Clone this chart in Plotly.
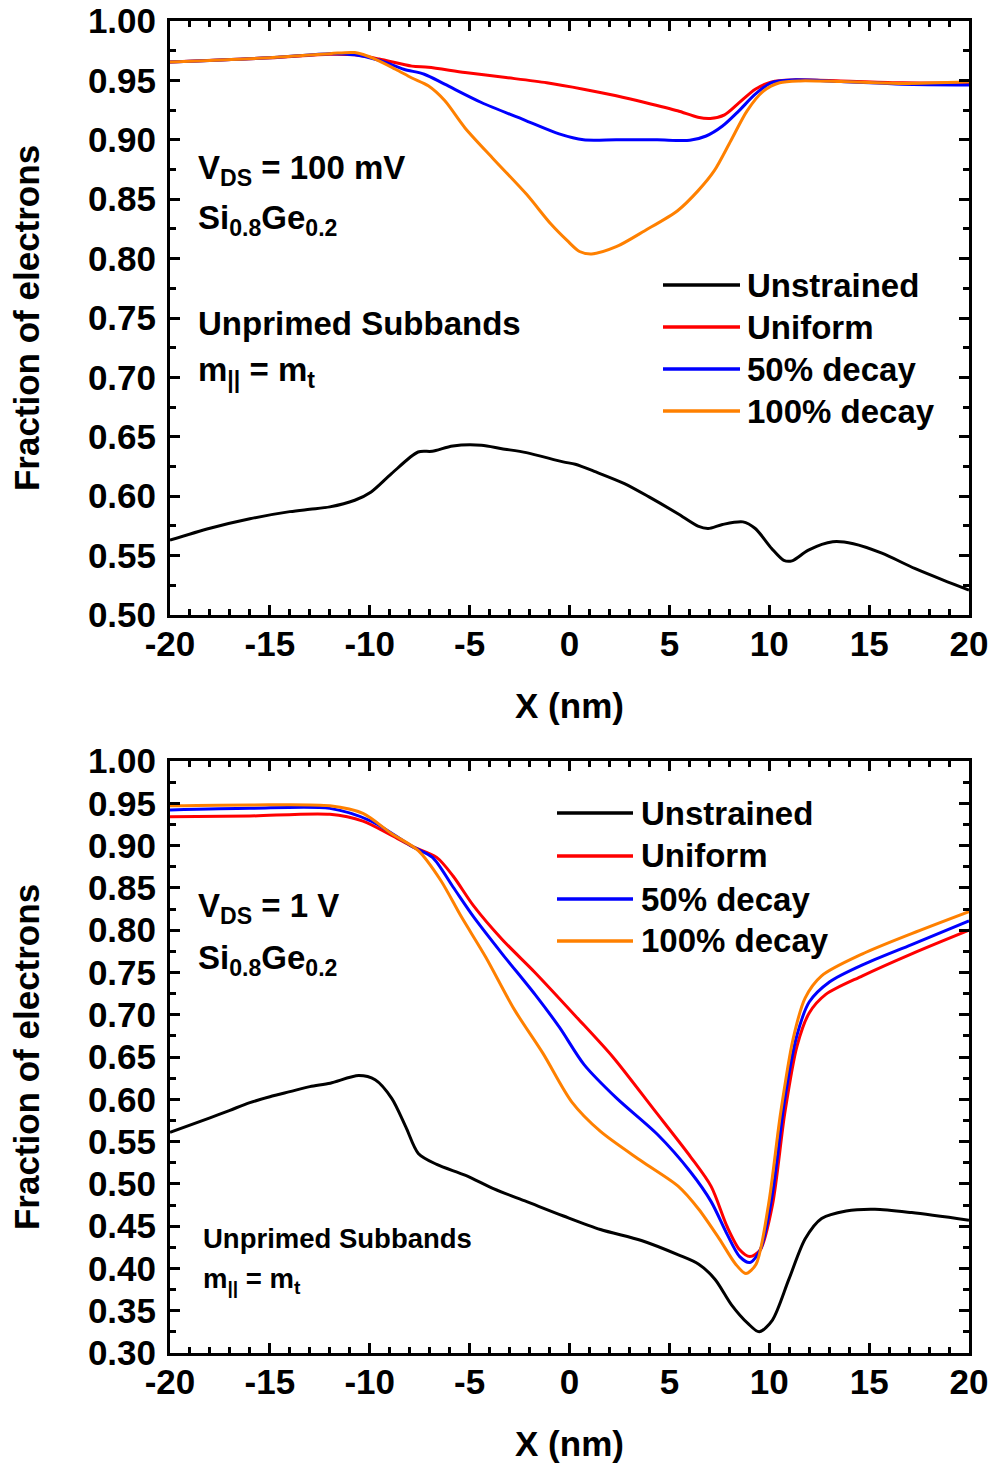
import plotly.graph_objects as go

W, H = 995, 1468

# ---------------- Top panel (V_DS = 100 mV) ----------------
top_unstrained_x = [-20, -18, -16, -14, -13, -12, -10.75, -9.93, -8.91, -7.58, -6.87, -5.84, -4.41, -3.39, -2.16,
                    -0.32, 0.29, 1.32, 2.75, 3.98, 5.41, 6.43, 6.94, 7.66, 8.68, 9.3, 10.12, 10.73, 11.14, 11.96,
                    13.18, 14.21, 15.64, 17.28, 18.71, 20]
top_unstrained_y = [0.563, 0.573, 0.581, 0.587, 0.589, 0.591, 0.5966, 0.6036, 0.619, 0.6372, 0.6378, 0.6423, 0.6429,
                    0.640, 0.6367, 0.6289, 0.6269, 0.6204, 0.6106, 0.5994, 0.5854, 0.5748, 0.5728, 0.5762, 0.5784,
                    0.5728, 0.556, 0.546, 0.5456, 0.5546, 0.5616, 0.560, 0.552, 0.5392, 0.5294, 0.521]

top_uniform_x = [-20, -15, -11.98, -10.75, -9.53, -7.89, -7.07, -5.23, -3.18, -1.14, 0.70, 2.34, 3.77, 5.41, 6.43,
                 7.05, 7.76, 8.48, 9.3, 10.12, 11.14, 13.59, 16.66, 20]
top_uniform_y = [0.9655, 0.969, 0.972, 0.9715, 0.968, 0.962, 0.961, 0.9566, 0.9524, 0.948, 0.9426, 0.937, 0.9314,
                 0.9244, 0.919, 0.918, 0.921, 0.931, 0.9426, 0.9488, 0.9504, 0.9496, 0.948, 0.948]

top_decay50_x = [-20, -15, -11.98, -10.75, -9.53, -8.3, -7.27, -6.25, -4.41, -2.16, -0.52, 0.70, 2.34, 4.39, 6.02,
                 6.84, 7.66, 8.48, 9.3, 10.12, 11.14, 13.59, 16.66, 20]
top_decay50_y = [0.9655, 0.969, 0.9725, 0.9715, 0.967, 0.9594, 0.9552, 0.9468, 0.9314, 0.916, 0.905, 0.900, 0.900,
                 0.900, 0.8996, 0.9032, 0.9116, 0.9244, 0.9384, 0.9482, 0.9504, 0.949, 0.9468, 0.9462]

top_decay100_x = [-20, -15, -11.98, -10.75, -9.73, -8.71, -7.89, -7.07, -6.25, -5.23, -3.8, -2.16, -0.93, -0.11,
                  0.5, 1.11, 2.34, 3.77, 5.41, 6.43, 7.25, 8.07, 8.89, 9.71, 10.52, 11.55, 13.59, 16.66, 20]
top_decay100_y = [0.9655, 0.969, 0.9725, 0.9734, 0.968, 0.9594, 0.952, 0.9454, 0.933, 0.910, 0.8837, 0.8543,
                  0.8291, 0.8151, 0.806, 0.8039, 0.810, 0.8235, 0.8403, 0.857, 0.874, 0.899, 0.9244, 0.941, 0.948,
                  0.9496, 0.949, 0.9474, 0.9488]

# ---------------- Bottom panel (V_DS = 1 V) ----------------
bot_unstrained_x = [-20, -18, -17, -16, -15, -14, -13, -11.98, -10.55, -9.73, -8.9, -8.19, -7.57, -6.65, -5.2,
                    -3.78, -2.14, -0.3, 1.55, 3.6, 5.45, 6.47, 7.29, 8.11, 8.93, 9.5, 10.16, 10.98, 11.8, 12.62,
                    13.85, 15.29, 17.13, 20]
bot_unstrained_y = [0.561, 0.578, 0.587, 0.596, 0.603, 0.609, 0.615, 0.619, 0.628, 0.623, 0.601, 0.567, 0.536,
                    0.523, 0.510, 0.494, 0.479, 0.462, 0.446, 0.433, 0.416, 0.405, 0.387, 0.357, 0.335, 0.325,
                    0.339, 0.387, 0.435, 0.459, 0.468, 0.470, 0.466, 0.457]

bot_uniform_x = [-20, -16, -12, -10.34, -8.9, -7.88, -6.65, -5.83, -4.81, -3.37, -1.73, 0.32, 2.17, 4.22, 6.06,
                 7.09, 7.9, 8.52, 9.03, 9.55, 10.16, 10.78, 11.39, 12.0, 12.83, 14.67, 17.13, 20]
bot_uniform_y = [0.934, 0.935, 0.937, 0.929, 0.912, 0.899, 0.886, 0.864, 0.829, 0.789, 0.750, 0.698, 0.650,
                 0.588, 0.532, 0.497, 0.449, 0.422, 0.414, 0.422, 0.475, 0.584, 0.663, 0.702, 0.724, 0.746,
                 0.772, 0.800]

bot_decay50_x = [-20, -16, -12, -9.93, -7.88, -6.86, -5.83, -4.81, -3.37, -1.73, -0.5, 0.73, 2.37, 4.42, 6.06,
                 7.09, 7.9, 8.52, 9.03, 9.55, 10.16, 10.78, 11.39, 12.0, 13.03, 14.67, 17.13, 20]
bot_decay50_y = [0.942, 0.944, 0.944, 0.929, 0.899, 0.886, 0.851, 0.816, 0.772, 0.724, 0.685, 0.641, 0.601,
                 0.558, 0.514, 0.479, 0.440, 0.414, 0.407, 0.422, 0.488, 0.601, 0.676, 0.715, 0.739, 0.759,
                 0.783, 0.811]

bot_decay100_x = [-20, -16, -12, -10.34, -8.9, -7.57, -6.45, -5.42, -4.19, -2.76, -1.32, 0.11, 1.55, 3.6, 5.45,
                  6.47, 7.5, 8.32, 8.83, 9.34, 9.96, 10.57, 11.19, 11.8, 12.62, 14.67, 17.13, 20]
bot_decay100_y = [0.947, 0.948, 0.947, 0.938, 0.914, 0.894, 0.859, 0.816, 0.768, 0.706, 0.654, 0.597, 0.562,
                  0.527, 0.497, 0.470, 0.435, 0.405, 0.394, 0.405, 0.475, 0.584, 0.671, 0.720, 0.746, 0.772,
                  0.796, 0.822]

series_names = ["Unstrained", "Uniform", "50% decay", "100% decay"]
series_colors = ["#000000", "#FF0000", "#0000FF", "#FF8000"]

x_tick_vals = [-20, -15, -10, -5, 0, 5, 10, 15, 20]
x_tick_labels = ["-20", "-15", "-10", "-5", "0", "5", "10", "15", "20"]

FONT = "Liberation Sans, Arial, sans-serif"

fig = go.Figure()

top_series = [(top_unstrained_x, top_unstrained_y), (top_uniform_x, top_uniform_y),
              (top_decay50_x, top_decay50_y), (top_decay100_x, top_decay100_y)]
bot_series = [(bot_unstrained_x, bot_unstrained_y), (bot_uniform_x, bot_uniform_y),
              (bot_decay50_x, bot_decay50_y), (bot_decay100_x, bot_decay100_y)]

for (xs, ys), name, col in zip(top_series, series_names, series_colors):
    fig.add_trace(go.Scatter(x=xs, y=ys, mode="lines", name=name, showlegend=False,
                             line=dict(color=col, width=3, shape="spline", smoothing=0.8),
                             xaxis="x", yaxis="y"))
for (xs, ys), name, col in zip(bot_series, series_names, series_colors):
    fig.add_trace(go.Scatter(x=xs, y=ys, mode="lines", name=name, showlegend=False,
                             line=dict(color=col, width=3, shape="spline", smoothing=0.8),
                             xaxis="x2", yaxis="y2"))


def px(x):
    return x / W


def py(y):
    return 1 - y / H


xdom = [px(170), px(969)]
top_dom = [py(615), py(21)]
bot_dom = [py(1353), py(761)]

tickfont = dict(family=FONT, size=35, color="black", weight="bold")
titlefont = dict(family=FONT, size=35, color="black", weight="bold")

common_axis = dict(showline=True, linewidth=3, linecolor="black", mirror="allticks",
                   ticks="inside", ticklen=10, tickwidth=3, tickcolor="black",
                   showgrid=False, zeroline=False, tickfont=tickfont, automargin=False)

xaxis_common = dict(common_axis, range=[-20, 20], tickmode="array", tickvals=x_tick_vals, ticktext=x_tick_labels,
                    ticklabelstandoff=-4,
                    minor=dict(dtick=1, tick0=0, ticklen=6, tickwidth=3, tickcolor="black", ticks="inside",
                               showgrid=False),
                    title=dict(text="X (nm)", font=titlefont, standoff=32), domain=xdom)

yaxis_common = dict(common_axis, dtick=0.05, tick0=0, tickformat=".2f", ticklabelstandoff=4,
                    minor=dict(dtick=0.025, tick0=0, ticklen=6, tickwidth=3, tickcolor="black", ticks="inside",
                               showgrid=False),
                    title=dict(text="Fraction of electrons", font=titlefont, standoff=38))

fig.update_layout(
    width=W, height=H, margin=dict(l=0, r=0, t=0, b=0, autoexpand=False),
    paper_bgcolor="white", plot_bgcolor="white", showlegend=False,
    xaxis=dict(xaxis_common, anchor="y"),
    yaxis=dict(yaxis_common, range=[0.5, 1.0], domain=top_dom, anchor="x"),
    xaxis2=dict(xaxis_common, anchor="y2"),
    yaxis2=dict(yaxis_common, range=[0.3, 1.0], domain=bot_dom, anchor="x2"),
)

annots = []
shapes = []


def add_text(x, y, text, size):
    annots.append(dict(x=px(x), y=py(y), xref="paper", yref="paper", text=text, showarrow=False,
                       xanchor="left", yanchor="middle",
                       font=dict(family=FONT, size=size, color="black", weight="bold")))


# top panel labels
add_text(196, 170, "V<sub>DS</sub> = 100 mV", 33)
add_text(196, 220, "Si<sub>0.8</sub>Ge<sub>0.2</sub>", 33)
add_text(196, 323, "Unprimed Subbands", 33)
add_text(196, 372, "m<sub>||</sub> = m<sub>t</sub>", 33)

# bottom panel labels
add_text(196, 908, "V<sub>DS</sub> = 1 V", 33)
add_text(196, 960, "Si<sub>0.8</sub>Ge<sub>0.2</sub>", 33)
add_text(201, 1238, "Unprimed Subbands", 27.5)
add_text(201, 1280, "m<sub>||</sub> = m<sub>t</sub>", 27.5)

# legends (drawn manually)
top_leg_rows = [285, 327, 369, 411]
bot_leg_rows = [813, 856, 899, 941]
for name, col, ry in zip(series_names, series_colors, top_leg_rows):
    shapes.append(dict(type="line", xref="paper", yref="paper", x0=px(663), x1=px(740), y0=py(ry), y1=py(ry),
                       line=dict(color=col, width=3.5)))
    add_text(745, ry, name, 33)
for name, col, ry in zip(series_names, series_colors, bot_leg_rows):
    shapes.append(dict(type="line", xref="paper", yref="paper", x0=px(557), x1=px(633), y0=py(ry), y1=py(ry),
                       line=dict(color=col, width=3.5)))
    add_text(639, ry, name, 33)

fig.update_layout(annotations=annots, shapes=shapes)

fig.write_html("out.html")
